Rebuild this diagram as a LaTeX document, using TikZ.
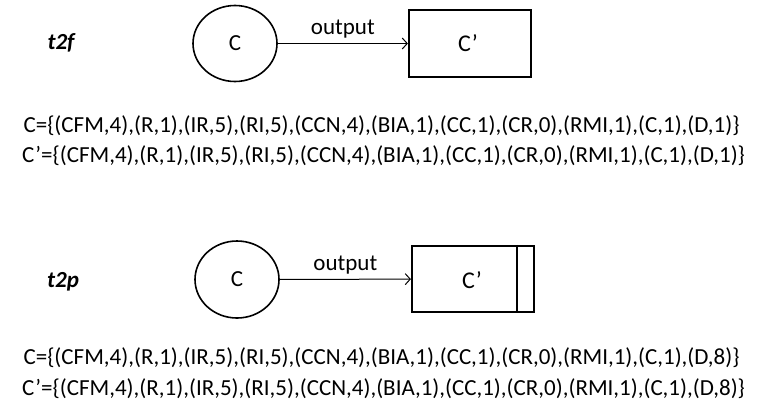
\documentclass[tikz,border=0pt]{standalone}
\usepackage{fontspec}
\setmainfont{Carlito}
\usetikzlibrary{arrows.meta,shapes.geometric}
\begin{document}
\begin{tikzpicture}[x=1pt,y=-1pt,
  place/.style={draw,line width=1.6pt,ellipse,minimum width=84pt,minimum height=76pt,inner sep=0pt,font=\fontsize{23}{26}\selectfont},
  trans/.style={draw,line width=2.2pt,rectangle,minimum width=122pt,minimum height=67pt,inner sep=0pt},
  prime/.style={font=\fontsize{24}{27}\selectfont,inner sep=0pt},
  lbl/.style={font=\fontsize{23}{26}\selectfont\bfseries\itshape},
  arr/.style={line width=1pt,-{Straight Barb[length=5pt,width=11pt,line width=1pt]}},
  olab/.style={font=\fontsize{23}{26}\selectfont,inner sep=0pt},
  setline/.style={font=\fontsize{23}{26}\selectfont,inner sep=0pt}]
\useasboundingbox (0,0) rectangle (759,416);
% top
\node[lbl] (t2f) at (61,43) {t2f};
\node[place] (c1) at (235,43.5) {C};
\node[trans] (b1) at (470,43.5) {};
\node[prime] (b1t) at (468,43.5) {C’};
\draw[arr] (c1) -- (b1) node[midway,above=5pt,olab] (o1) {output};
\node[setline] (s1) at (381.5,126) {C=\{(CFM,4),(R,1),(IR,5),(RI,5),(CCN,4),(BIA,1),(CC,1),(CR,0),(RMI,1),(C,1),(D,1)\}};
\node[setline] (s2) at (383.5,156) {C’=\{(CFM,4),(R,1),(IR,5),(RI,5),(CCN,4),(BIA,1),(CC,1),(CR,0),(RMI,1),(C,1),(D,1)\}};
% bottom
\node[lbl] (t2p) at (63,282) {t2p};
\node[place,minimum height=77pt] (c2) at (237,279.5) {C};
\node[trans,minimum height=66pt] (b2) at (473,279) {};
\draw[line width=1.4pt] ([xshift=-18pt]b2.north east) -- ([xshift=-18pt]b2.south east);
\node[prime] (b2t) at (472,280) {C’};
\draw[arr] (c2) -- (b2) node[midway,above=5pt,olab] (o2) {output};
\node[setline] (s3) at (381.5,358) {C=\{(CFM,4),(R,1),(IR,5),(RI,5),(CCN,4),(BIA,1),(CC,1),(CR,0),(RMI,1),(C,1),(D,8)\}};
\node[setline] (s4) at (383.5,389) {C’=\{(CFM,4),(R,1),(IR,5),(RI,5),(CCN,4),(BIA,1),(CC,1),(CR,0),(RMI,1),(C,1),(D,8)\}};
\end{tikzpicture}
\end{document}
